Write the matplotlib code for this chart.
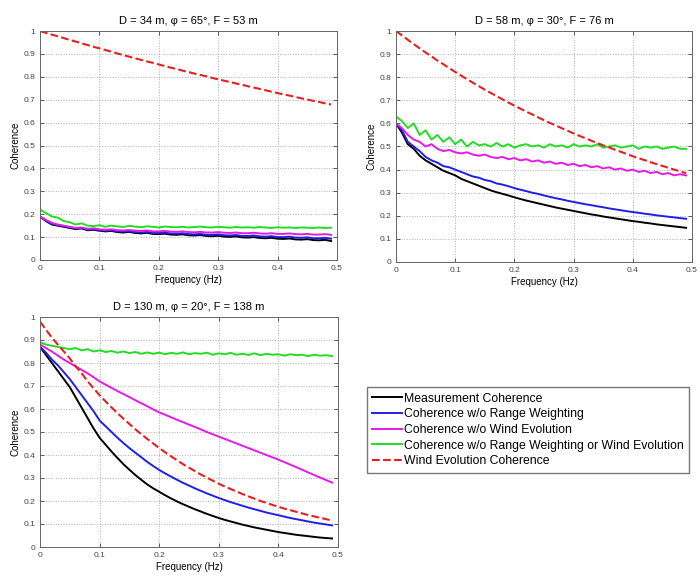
"""
Coherence vs. frequency for three lidar configurations (2x2 grid, legend in the empty slot).
"""
import matplotlib
matplotlib.use("Agg")
import matplotlib.pyplot as plt

FREQ = [0.00, 0.01, 0.02, 0.03, 0.04, 0.05, 0.06, 0.07, 0.08, 0.09,
        0.10, 0.11, 0.12, 0.13, 0.14, 0.15, 0.16, 0.17, 0.18, 0.19,
        0.20, 0.21, 0.22, 0.23, 0.24, 0.25, 0.26, 0.27, 0.28, 0.29,
        0.30, 0.31, 0.32, 0.33, 0.34, 0.35, 0.36, 0.37, 0.38, 0.39,
        0.40, 0.41, 0.42, 0.43, 0.44, 0.45, 0.46, 0.47, 0.48, 0.49]

TITLES = ["D = 34 m, \u03c6 = 65\u00b0, F = 53 m",
          "D = 58 m, \u03c6 = 30\u00b0, F = 76 m",
          "D = 130 m, \u03c6 = 20\u00b0, F = 138 m"]

LABELS = ["Measurement Coherence",
          "Coherence w/o Range Weighting",
          "Coherence w/o Wind Evolution",
          "Coherence w/o Range Weighting or Wind Evolution",
          "Wind Evolution Coherence"]

# ---- panel 1: D = 34 m ----
P1_MEAS = [0.19, 0.17, 0.155, 0.15, 0.145, 0.14, 0.135, 0.138, 0.13, 0.132,
           0.128, 0.125, 0.127, 0.122, 0.12, 0.123, 0.118, 0.116, 0.119, 0.114,
           0.113, 0.115, 0.111, 0.11, 0.112, 0.108, 0.107, 0.109, 0.105, 0.104,
           0.106, 0.102, 0.101, 0.103, 0.099, 0.098, 0.1, 0.096, 0.095, 0.097,
           0.093, 0.092, 0.094, 0.09, 0.089, 0.091, 0.087, 0.086, 0.088, 0.083]
P1_NORW = [0.19, 0.172, 0.158, 0.152, 0.148, 0.142, 0.138, 0.14, 0.133, 0.135,
           0.131, 0.128, 0.13, 0.125, 0.124, 0.126, 0.122, 0.12, 0.123, 0.118,
           0.118, 0.12, 0.116, 0.115, 0.117, 0.113, 0.112, 0.114, 0.11, 0.11,
           0.112, 0.108, 0.107, 0.109, 0.105, 0.105, 0.107, 0.103, 0.102, 0.104,
           0.1, 0.1, 0.102, 0.098, 0.097, 0.099, 0.095, 0.095, 0.097, 0.093]
P1_NOWE = [0.19, 0.175, 0.162, 0.155, 0.15, 0.145, 0.14, 0.142, 0.136, 0.138,
           0.134, 0.132, 0.134, 0.13, 0.129, 0.131, 0.128, 0.127, 0.129, 0.125,
           0.125, 0.127, 0.124, 0.123, 0.125, 0.122, 0.121, 0.123, 0.12, 0.12,
           0.122, 0.119, 0.118, 0.12, 0.117, 0.117, 0.119, 0.116, 0.115, 0.117,
           0.114, 0.114, 0.116, 0.113, 0.112, 0.114, 0.111, 0.111, 0.113, 0.11]
P1_NONE = [0.22, 0.205, 0.19, 0.185, 0.17, 0.165, 0.155, 0.16, 0.15, 0.148,
           0.152, 0.145, 0.15, 0.147, 0.144, 0.149, 0.146, 0.143, 0.147, 0.145,
           0.142, 0.146, 0.144, 0.143, 0.145, 0.142, 0.144, 0.146, 0.143, 0.142,
           0.145, 0.143, 0.141, 0.144, 0.142, 0.143, 0.141, 0.144, 0.142, 0.14,
           0.143, 0.141, 0.142, 0.14, 0.142, 0.141, 0.14, 0.142, 0.14, 0.141]
P1_WIND = [1.000, 0.992, 0.984, 0.977, 0.969, 0.961, 0.954, 0.946, 0.939, 0.931,
           0.924, 0.917, 0.910, 0.902, 0.895, 0.888, 0.881, 0.874, 0.867, 0.861,
           0.854, 0.847, 0.840, 0.834, 0.827, 0.821, 0.814, 0.808, 0.802, 0.795,
           0.789, 0.783, 0.777, 0.771, 0.765, 0.759, 0.753, 0.747, 0.741, 0.735,
           0.729, 0.723, 0.718, 0.712, 0.706, 0.701, 0.695, 0.690, 0.684, 0.679]

# ---- panel 2: D = 58 m ----
P2_MEAS = [0.6, 0.56, 0.51, 0.49, 0.46, 0.44, 0.425, 0.41, 0.395, 0.385,
           0.375, 0.36, 0.35, 0.34, 0.33, 0.32, 0.31, 0.302, 0.295, 0.288,
           0.28, 0.273, 0.266, 0.26, 0.254, 0.248, 0.242, 0.236, 0.231, 0.226,
           0.221, 0.216, 0.211, 0.206, 0.202, 0.197, 0.193, 0.189, 0.185, 0.181,
           0.177, 0.174, 0.17, 0.167, 0.163, 0.16, 0.157, 0.154, 0.151, 0.148]
P2_NORW = [0.6, 0.57, 0.52, 0.5, 0.48, 0.455, 0.44, 0.43, 0.415, 0.41,
           0.4, 0.39, 0.38, 0.37, 0.365, 0.355, 0.35, 0.34, 0.335, 0.328,
           0.32, 0.313, 0.307, 0.3, 0.295, 0.288, 0.282, 0.276, 0.271, 0.265,
           0.26, 0.255, 0.25, 0.246, 0.241, 0.237, 0.232, 0.228, 0.224, 0.22,
           0.216, 0.213, 0.209, 0.206, 0.202, 0.199, 0.196, 0.193, 0.19, 0.187]
P2_NOWE = [0.6, 0.58, 0.55, 0.53, 0.52, 0.5, 0.51, 0.49, 0.48, 0.485,
           0.475, 0.47, 0.475, 0.465, 0.46, 0.465, 0.455, 0.45, 0.455, 0.445,
           0.45, 0.44, 0.445, 0.435, 0.44, 0.43, 0.435, 0.425, 0.43, 0.42,
           0.425, 0.415, 0.42, 0.41, 0.415, 0.405, 0.41, 0.4, 0.405, 0.395,
           0.4, 0.39, 0.395, 0.385, 0.39, 0.38, 0.385, 0.375, 0.38, 0.375]
P2_NONE = [0.63, 0.61, 0.58, 0.6, 0.55, 0.57, 0.53, 0.55, 0.52, 0.54,
           0.51, 0.53, 0.5, 0.52, 0.505, 0.51, 0.5, 0.515, 0.5, 0.51,
           0.495, 0.505, 0.51, 0.5, 0.505, 0.495, 0.51, 0.5, 0.505, 0.495,
           0.51, 0.5, 0.505, 0.5, 0.51, 0.495, 0.5, 0.505, 0.495, 0.5,
           0.505, 0.49, 0.5, 0.495, 0.5, 0.49, 0.495, 0.5, 0.49, 0.49]
P2_WIND = [1.000, 0.981, 0.962, 0.943, 0.925, 0.907, 0.890, 0.872, 0.856, 0.839,
           0.823, 0.807, 0.791, 0.776, 0.761, 0.746, 0.732, 0.718, 0.704, 0.690,
           0.677, 0.664, 0.651, 0.639, 0.626, 0.614, 0.602, 0.591, 0.579, 0.568,
           0.557, 0.546, 0.536, 0.525, 0.515, 0.505, 0.496, 0.486, 0.477, 0.467,
           0.458, 0.449, 0.441, 0.432, 0.424, 0.416, 0.408, 0.400, 0.392, 0.385]

# ---- panel 3: D = 130 m ----
P3_MEAS = [0.87, 0.835, 0.80, 0.765, 0.73, 0.695, 0.65, 0.605, 0.56, 0.515,
           0.475, 0.445, 0.415, 0.387, 0.36, 0.336, 0.313, 0.292, 0.272, 0.255,
           0.24, 0.225, 0.211, 0.198, 0.186, 0.175, 0.164, 0.154, 0.144, 0.135,
           0.126, 0.118, 0.111, 0.104, 0.097, 0.091, 0.085, 0.08, 0.075, 0.07,
           0.065, 0.061, 0.057, 0.053, 0.05, 0.047, 0.044, 0.041, 0.039, 0.037]
P3_NORW = [0.87, 0.845, 0.815, 0.79, 0.76, 0.73, 0.695, 0.66, 0.625, 0.59,
           0.55, 0.525, 0.5, 0.475, 0.452, 0.43, 0.41, 0.39, 0.37, 0.352,
           0.335, 0.32, 0.306, 0.292, 0.279, 0.267, 0.255, 0.244, 0.233, 0.223,
           0.213, 0.204, 0.195, 0.187, 0.179, 0.171, 0.164, 0.157, 0.15, 0.144,
           0.138, 0.132, 0.126, 0.121, 0.116, 0.111, 0.106, 0.102, 0.098, 0.094]
P3_NOWE = [0.88, 0.865, 0.85, 0.832, 0.815, 0.80, 0.785, 0.77, 0.755, 0.738,
           0.72, 0.706, 0.692, 0.678, 0.665, 0.652, 0.638, 0.625, 0.612, 0.598,
           0.585, 0.575, 0.564, 0.553, 0.543, 0.532, 0.522, 0.511, 0.5, 0.49,
           0.48, 0.47, 0.46, 0.45, 0.44, 0.43, 0.42, 0.41, 0.40, 0.39,
           0.38, 0.369, 0.358, 0.347, 0.336, 0.324, 0.313, 0.302, 0.291, 0.28]
P3_NONE = [0.89, 0.88, 0.875, 0.87, 0.865, 0.86, 0.865, 0.855, 0.86, 0.85,
           0.855, 0.848, 0.852, 0.845, 0.85, 0.843, 0.848, 0.84, 0.846, 0.84,
           0.845, 0.838, 0.844, 0.84, 0.846, 0.838, 0.843, 0.84, 0.845, 0.836,
           0.842, 0.838, 0.844, 0.836, 0.84, 0.835, 0.842, 0.834, 0.84, 0.836,
           0.838, 0.832, 0.838, 0.834, 0.836, 0.83, 0.836, 0.832, 0.834, 0.83]
P3_WIND = [0.98, 0.945, 0.91, 0.88, 0.85, 0.82, 0.785, 0.755, 0.72, 0.69,
           0.66, 0.633, 0.607, 0.582, 0.558, 0.535, 0.512, 0.49, 0.47, 0.45,
           0.43, 0.412, 0.394, 0.377, 0.36, 0.345, 0.33, 0.315, 0.302, 0.288,
           0.275, 0.263, 0.252, 0.241, 0.23, 0.22, 0.21, 0.2, 0.192, 0.183,
           0.175, 0.167, 0.16, 0.153, 0.146, 0.139, 0.133, 0.127, 0.121, 0.115]

PANELS = [
    (P1_MEAS, P1_NORW, P1_NOWE, P1_NONE, P1_WIND),
    (P2_MEAS, P2_NORW, P2_NOWE, P2_NONE, P2_WIND),
    (P3_MEAS, P3_NORW, P3_NOWE, P3_NONE, P3_WIND),
]

COLORS = ["black", "#1f1fe6", "#e619e6", "#22dd22", "#e62020"]
STYLES = ["-", "-", "-", "-", "--"]

XTICKS = [0, 0.1, 0.2, 0.3, 0.4, 0.5]
XTICKLABELS = ["0", "0.1", "0.2", "0.3", "0.4", "0.5"]
YTICKS = [0, 0.1, 0.2, 0.3, 0.4, 0.5, 0.6, 0.7, 0.8, 0.9, 1.0]
YTICKLABELS = ["0", "0.1", "0.2", "0.3", "0.4", "0.5", "0.6", "0.7", "0.8", "0.9", "1"]

W, H = 700, 577
# axes rectangles in pixels: left, top, right, bottom
RECTS = [(40, 31, 337, 260), (396, 31, 692, 262), (40, 317, 338, 547)]

plt.rcParams["font.family"] = ["Liberation Sans", "DejaVu Sans"]


def main():
    fig = plt.figure(figsize=(W / 100, H / 100), dpi=100)
    fig.patch.set_facecolor("white")

    handles = None
    for (l, t, r, b), title, series in zip(RECTS, TITLES, PANELS):
        ax = fig.add_axes([l / W, 1 - b / H, (r - l) / W, (b - t) / H])
        lines = []
        for y, c, ls in zip(series, COLORS, STYLES):
            ln, = ax.plot(FREQ, y, color=c, linestyle=ls, linewidth=1.5 if ls == "--" else 1.4)
            lines.append(ln)
        handles = lines
        ax.set_xlim(0, 0.5)
        ax.set_ylim(0, 1)
        ax.set_xticks(XTICKS)
        ax.set_xticklabels(XTICKLABELS)
        ax.set_yticks(YTICKS)
        ax.set_yticklabels(YTICKLABELS)
        ax.grid(True, linestyle=":", color="#b0b0b0", linewidth=0.7)
        ax.tick_params(direction="in", top=True, right=True, labelsize=6,
                       length=3, width=0.6, colors="#444444")
        for sp in ax.spines.values():
            sp.set_color("#666666")
            sp.set_linewidth(0.7)
        ax.set_title(title, fontsize=8, pad=5)
        ax.set_xlabel("Frequency (Hz)", fontsize=7, labelpad=2)
        ax.set_ylabel("Coherence", fontsize=7, labelpad=2)

    fig.legend(handles, LABELS, loc="upper left", bbox_to_anchor=(367 / W, 1 - 387 / H),
               fontsize=8.8, frameon=True, fancybox=False, edgecolor="#555555",
               handlelength=2.4, handletextpad=0.15, labelspacing=0.3,
               borderpad=0.45, borderaxespad=0)

    fig.savefig("out.png", dpi=100, facecolor="white")
    print("[SAVED] out.png")


if __name__ == "__main__":
    main()
